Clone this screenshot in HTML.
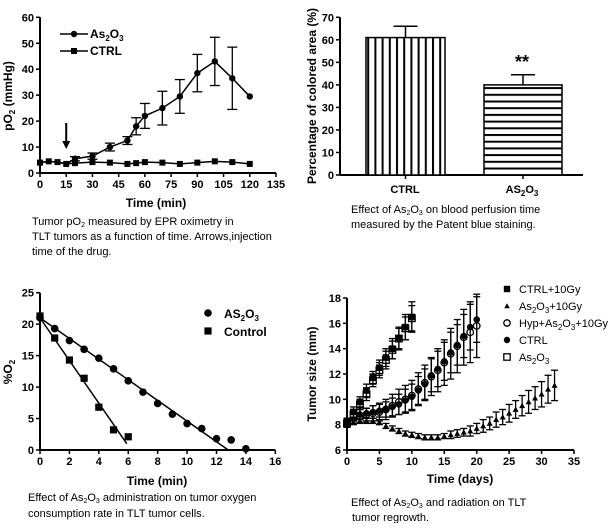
<!DOCTYPE html>
<html><head><meta charset="utf-8"><style>
body{margin:0;background:#fff;width:609px;height:523px;overflow:hidden}
svg{font-family:"Liberation Sans",Arial,sans-serif}
.t{font-size:11px;font-weight:bold}
.c{font-size:11px}
</style></head><body>
<svg id="s" width="609" height="523">
<defs>
<pattern id="vs" width="7.2" height="10" patternUnits="userSpaceOnUse"><rect width="7.2" height="10" fill="#fff"/><rect x="0" width="2" height="10" fill="#000"/></pattern>
<pattern id="hs" width="10" height="6.7" patternUnits="userSpaceOnUse"><rect width="10" height="6.7" fill="#fff"/><rect y="0" width="10" height="2" fill="#000"/></pattern>
</defs>
</svg>
<script>
// Panel A data
const aTimesAs=[0,5,10,15,20,30,40,50,55,60,70,80,90,100,110,120];
const aValsAs=[4,4.5,4.2,3.5,5.5,6.5,10,12.5,18,22,25,29.5,38.5,43,36.5,29.5];
const aErrAs=[0,0,0,0,0.8,1.2,1.5,1.5,3.3,4.8,6.5,6.5,7.2,9.3,12,0];
const aTimesCtrl=[0,5,10,15,20,30,40,50,55,60,70,80,90,100,110,120];
const aValsCtrl=[4,4.5,4.2,3.5,3.8,4.2,4,3.5,3.8,4.2,4,3.5,4,4.5,4.2,3.5];
const aXTicks=[0,15,30,45,60,75,90,105,120,135];
const aYTicks=[0,10,20,30,40,50,60];
// Panel B data
const bCats=["CTRL","AS2O3"];
const bVals=[61,40];
const bErr=[5,4.5];
const bYTicks=[0,10,20,30,40,50,60,70];
// Panel C data
const cTimesAs=[0,1,2,3,4,5,6,7,8,9,10,11,12,13,14];
const cValsAs=[21,19.3,17.4,16,14.6,12.9,11,9.2,7.4,5.7,4.2,3.4,1.8,1.6,0.2];
const cTimesCtrl=[0,1,2,3,4,5,6];
const cValsCtrl=[21.3,17.8,14.3,11.4,6.8,3.2,2.1];
const cFitAs=[[0,21],[12.8,0]];
const cFitCtrl=[[0,21],[5.9,1]];
const cXTicks=[0,2,4,6,8,10,12,14,16];
const cYTicks=[0,5,10,15,20,25];
// Panel D data
const dCtrl10=[8.2,9,9.8,10.7,11.7,12.5,13.3,14,14.8,15.7,16.5];
const dCtrl10Err=[0.3,0.4,0.4,0.5,0.5,0.6,0.7,0.8,0.9,1.0,1.2];
const dAs=[8.1,8.8,9.6,10.4,11.5,12.3,13.1,13.9,14.8,15.6,16.4];
const dAsErr=[0.3,0.4,0.4,0.5,0.5,0.6,0.7,0.7,0.8,0.9,1.0];
const dCtrl=[8,8.6,8.8,8.9,9,9.1,9.2,9.4,9.6,9.9,10.2,10.7,11.2,11.9,12.4,13,13.7,14.3,15,15.7,16.3];
const dCtrlErr=[0.2,0.3,0.4,0.4,0.5,0.5,0.6,0.7,0.8,0.9,1.0,1.1,1.2,1.3,1.4,1.5,1.6,1.6,1.7,1.8,1.8];
const dHyp=[8.2,8.5,8.7,8.8,8.9,9,9.2,9.5,9.8,10,10.3,10.8,11.3,11.8,12.3,12.9,13.6,14.2,14.9,15.3,15.8];
const dHypErr=[0.3,0.4,0.5,0.5,0.6,0.7,0.8,0.9,1.0,1.1,1.2,1.3,1.4,1.5,1.7,1.8,2.0,2.1,2.2,2.4,2.5];
const dTri=[8.2,8.2,8.3,8.3,8.3,8.2,7.9,7.7,7.5,7.3,7.2,7.1,7,7,7,7.1,7.2,7.3,7.4,7.5,7.7,7.9,8.1,8.4,8.6,8.9,9.2,9.5,9.8,10.1,10.4,10.8,11.1];
const dTriErr=[0.2,0.2,0.2,0.2,0.2,0.2,0.2,0.2,0.2,0.2,0.2,0.2,0.2,0.2,0.2,0.2,0.3,0.3,0.3,0.4,0.4,0.5,0.5,0.6,0.6,0.7,0.7,0.8,0.9,0.9,1.0,1.1,1.2];
const dXTicks=[0,5,10,15,20,25,30,35];
const dYTicks=[6,8,10,12,14,16,18];

const S=document.getElementById('s');
const NS='http://www.w3.org/2000/svg';
function mk(tag,at,name,parent){const e=document.createElementNS(NS,tag);for(const k in at)e.setAttribute(k,at[k]);


(parent||S).appendChild(e);return e;}
function line(x1,y1,x2,y2,name,w){return mk('line',{x1,y1,x2,y2,stroke:'#000','stroke-width':w||1.5},name);}
function text(x,y,str,cls,name,anchor,extra){const e=mk('text',Object.assign({x,y,'class':cls,'text-anchor':anchor||'middle'},extra||{}),name);e.innerHTML=str;return e;}
function lin(d0,d1,p0,p1){return v=>p0+(v-d0)*(p1-p0)/(d1-d0);}
function axes(X,Y,xt,yt,x0,y0,pfx,xEnd,yEnd){
 line(X(x0),Y(y0),X(x0),Y(yEnd),pfx+'-y-axis',2);
 line(X(x0),Y(y0),X(xEnd),Y(y0),pfx+'-x-axis',2);
 xt.forEach(v=>{line(X(v),Y(y0),X(v),Y(y0)+4,pfx+'-x-tick',1.5);text(X(v),Y(y0)+15,v,'t',pfx+'-x-tick-label');});
 yt.forEach(v=>{line(X(x0)-4,Y(v),X(x0),Y(v),pfx+'-y-tick',1.5);text(X(x0)-6,Y(v)+4,v,'t',pfx+'-y-tick-label','end');});
}
function err(x,y1,y2,name,cap){line(x,y1,x,y2,name,1.3);line(x-cap,y1,x+cap,y1,name+'-cap',1.3);line(x-cap,y2,x+cap,y2,name+'-cap',1.3);}
function poly(pts,name,w){return mk('polyline',{points:pts.map(p=>p.join(',')).join(' '),fill:'none',stroke:'#000','stroke-width':w||1.5},name);}
function marker(type,x,y,r,name){
 if(type==='c')mk('circle',{cx:x,cy:y,r,fill:'#000'},name);
 else if(type==='oc')mk('circle',{cx:x,cy:y,r,fill:'#fff',stroke:'#000','stroke-width':1.3},name);
 else if(type==='s')mk('rect',{x:x-r,y:y-r,width:2*r,height:2*r,fill:'#000'},name);
 else if(type==='os')mk('rect',{x:x-r,y:y-r,width:2*r,height:2*r,fill:'#fff',stroke:'#000','stroke-width':1.3},name);
 else if(type==='t')mk('polygon',{points:`${x},${y-r} ${x-r},${y+r*0.8} ${x+r},${y+r*0.8}`,fill:'#000'},name);
}
// ---------- Panel A
{const X=lin(0,135,40,276),Y=lin(0,60,173,17.3);
axes(X,Y,aXTicks,aYTicks,0,0,'a',135,60);
poly(aTimesCtrl.map((t,i)=>[X(t),Y(aValsCtrl[i])]),'a-ctrl-line');
poly(aTimesAs.map((t,i)=>[X(t),Y(aValsAs[i])]),'a-as2o3-line');
aTimesAs.forEach((t,i)=>{if(aErrAs[i]>0)err(X(t),Y(aValsAs[i]-aErrAs[i]),Y(aValsAs[i]+aErrAs[i]),'a-as2o3-error',5);});
aTimesCtrl.forEach((t,i)=>marker('s',X(t),Y(aValsCtrl[i]),3,'a-ctrl-point'));
aTimesAs.forEach((t,i)=>{if(t>15)marker('c',X(t),Y(aValsAs[i]),3.2,'a-as2o3-point');});
line(X(15),123,X(15),145,'a-injection-arrow',2);
mk('polygon',{points:`${X(15)-4},141 ${X(15)+4},141 ${X(15)},149`,fill:'#000'},'a-arrow-head');
line(60,34,88,34,'a-legend-as2o3-line');marker('c',74,34,3.2,'a-legend-as2o3-marker');
text(90,38,'As<tspan font-size="8" dy="3">2</tspan><tspan dy="-3">O</tspan><tspan font-size="8" dy="3">3</tspan>','t','a-legend-as2o3-label','start',{style:'font-size:12px'});
line(60,51,88,51,'a-legend-ctrl-line');marker('s',74,51,3,'a-legend-ctrl-marker');
text(90,55,'CTRL','t','a-legend-ctrl-label','start',{style:'font-size:12px'});
text(156,207,'Time (min)','t','a-x-axis-title','middle',{style:'font-size:12px'});
text(12,96,'pO<tspan font-size="8" dy="3">2</tspan><tspan dy="-3"> (mmHg)</tspan>','t','a-y-axis-title','middle',{transform:'rotate(-90 12 96)',style:'font-size:12px'});
text(32,225,'Tumor pO<tspan font-size="7" dy="2">2</tspan><tspan dy="-2"> measured by EPR oximetry in</tspan>','c','a-caption-1','start');
text(32,240,'TLT tumors as a function of time. Arrows,injection','c','a-caption-2','start');
text(32,255,'time of the drug.','c','a-caption-3','start');}
// ---------- Panel B
{const Y=lin(0,70,175,17.3);const bx=[[366,445],[484,562]];const fills=['url(#vs)','url(#hs)'];
line(340,Y(0),340,Y(70),'b-y-axis',2);line(340,Y(0),583,Y(0),'b-x-axis',2);
bYTicks.forEach(v=>{line(336,Y(v),340,Y(v),'b-y-tick');text(334,Y(v)+4,v,'t','b-y-tick-label','end');});
bVals.forEach((v,i)=>{const [x1,x2]=bx[i];const cx=(x1+x2)/2;
 mk('rect',{x:x1,y:Y(v),width:x2-x1,height:Y(0)-Y(v),fill:fills[i],stroke:'#000','stroke-width':1.5},'b-bar-'+bCats[i].toLowerCase());
 line(cx,Y(v),cx,Y(v+bErr[i]),'b-error-bar');line(cx-12,Y(v+bErr[i]),cx+12,Y(v+bErr[i]),'b-error-cap');
 line(cx,Y(0),cx,Y(0)+4,'b-x-tick');});
text(405,193,'CTRL','t','b-x-label-ctrl');
text(522,193,'AS<tspan font-size="8" dy="3">2</tspan><tspan dy="-3">O</tspan><tspan font-size="8" dy="3">3</tspan>','t','b-x-label-as2o3');
text(522,68,'**','t','b-significance','middle',{style:'font-size:18px'});
text(316,96,'Percentage of colored area (%)','t','b-y-axis-title','middle',{transform:'rotate(-90 316 96)',style:'font-size:12px'});
text(351,213,'Effect of As<tspan font-size="7" dy="2">2</tspan><tspan dy="-2">O</tspan><tspan font-size="7" dy="2">3</tspan><tspan dy="-2"> on blood perfusion time</tspan>','c','b-caption-1','start');
text(351,228,'measured by the Patent blue staining.','c','b-caption-2','start');}
// ---------- Panel C
{const X=lin(0,16,40,275.3),Y=lin(0,25,450,292.7);
axes(X,Y,cXTicks,cYTicks,0,0,'c',16,25);
poly(cFitAs.map(p=>[X(p[0]),Y(p[1])]),'c-as2o3-fit');
poly(cFitCtrl.map(p=>[X(p[0]),Y(p[1])]),'c-control-fit');
cTimesAs.forEach((t,i)=>marker('c',X(t),Y(cValsAs[i]),3.8,'c-as2o3-point'));
cTimesCtrl.forEach((t,i)=>marker('s',X(t),Y(cValsCtrl[i]),3.6,'c-control-point'));
marker('c',208,313,3.8,'c-legend-as2o3-marker');
text(224,318,'AS<tspan font-size="8" dy="3">2</tspan><tspan dy="-3">O</tspan><tspan font-size="8" dy="3">3</tspan>','t','c-legend-as2o3-label','start',{style:'font-size:12px'});
marker('s',208,331,3.6,'c-legend-control-marker');
text(224,336,'Control','t','c-legend-control-label','start',{style:'font-size:12px'});
text(157,485,'Time (min)','t','c-x-axis-title','middle',{style:'font-size:12px'});
text(12,372,'%O<tspan font-size="8" dy="3">2</tspan>','t','c-y-axis-title','middle',{transform:'rotate(-90 12 372)',style:'font-size:12px'});
text(28,501,'Effect of As<tspan font-size="7" dy="2">2</tspan><tspan dy="-2">O</tspan><tspan font-size="7" dy="2">3</tspan><tspan dy="-2"> administration on tumor oxygen</tspan>','c','c-caption-1','start');
text(28,517,'consumption rate in TLT tumor cells.','c','c-caption-2','start');}
// ---------- Panel D
{const X=lin(0,35,347,574),Y=lin(6,18,450,298);
axes(X,Y,dXTicks,dYTicks,0,6,'d',35,18);
const series=[[dTri,dTriErr,'t','d-as2o3-10gy'],[dHyp,dHypErr,'oc','d-hyp-as2o3-10gy'],[dCtrl,dCtrlErr,'c','d-ctrl'],[dAs,dAsErr,'os','d-as2o3'],[dCtrl10,dCtrl10Err,'s','d-ctrl-10gy']];
series.forEach(([v,e,m,n])=>{v.forEach((y,i)=>{err(X(i),Y(y-e[i]),Y(y+e[i]),n+'-error',3.5);});
 v.forEach((y,i)=>marker(m,X(i),Y(y),m==='t'?3:3.3,n+'-point'));});
const leg=[['s','CTRL+10Gy'],['t','As<tspan font-size="8" dy="3">2</tspan><tspan dy="-3">O</tspan><tspan font-size="8" dy="3">3</tspan><tspan dy="-3">+10Gy</tspan>'],['oc','Hyp+As<tspan font-size="8" dy="3">2</tspan><tspan dy="-3">O</tspan><tspan font-size="8" dy="3">3</tspan><tspan dy="-3">+10Gy</tspan>'],['c','CTRL'],['os','As<tspan font-size="8" dy="3">2</tspan><tspan dy="-3">O</tspan><tspan font-size="8" dy="3">3</tspan>']];
leg.forEach(([m,l],i)=>{const y=289+i*17;marker(m,507,y,m==='t'?2.8:3.2,'d-legend-marker');text(519,y+4,l,'c','d-legend-label','start');});
text(460,483,'Time (days)','t','d-x-axis-title','middle',{style:'font-size:12px'});
text(316,374,'Tumor size (mm)','t','d-y-axis-title','middle',{transform:'rotate(-90 316 374)',style:'font-size:12px'});
text(351,506,'Effect of As<tspan font-size="7" dy="2">2</tspan><tspan dy="-2">O</tspan><tspan font-size="7" dy="2">3</tspan><tspan dy="-2"> and radiation on TLT</tspan>','c','d-caption-1','start');
text(352,521,'tumor regrowth.','c','d-caption-2','start');}
</script>
</body></html>
